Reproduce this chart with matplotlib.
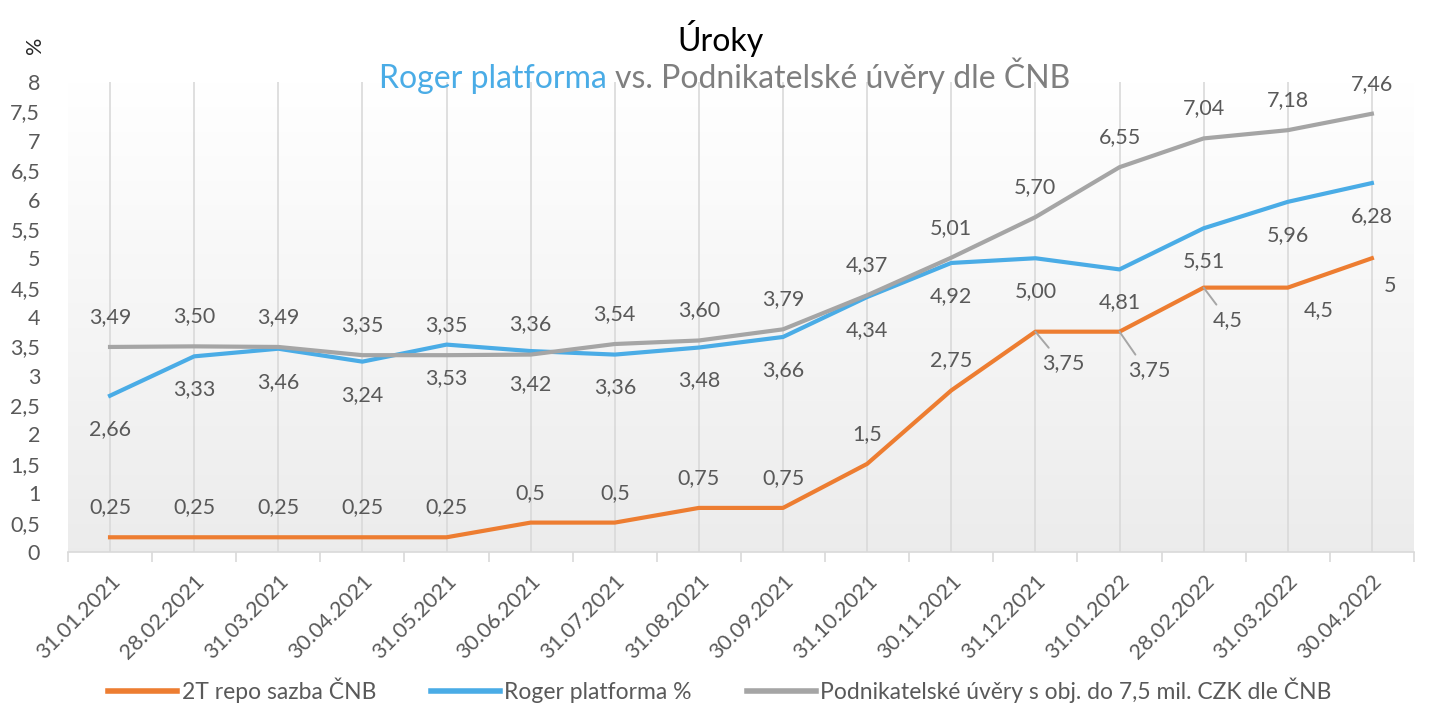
import numpy as np
import matplotlib
matplotlib.use('Agg')
import matplotlib.pyplot as plt
from matplotlib.ticker import FuncFormatter, FixedLocator

plt.rcParams['font.family'] = ['Lato', 'DejaVu Sans']

# --- data ---
dates = ['31.01.2021', '28.02.2021', '31.03.2021', '30.04.2021', '31.05.2021',
         '30.06.2021', '31.07.2021', '31.08.2021', '30.09.2021', '31.10.2021',
         '30.11.2021', '31.12.2021', '31.01.2022', '28.02.2022', '31.03.2022',
         '30.04.2022']
repo = [0.25, 0.25, 0.25, 0.25, 0.25, 0.5, 0.5, 0.75, 0.75, 1.5,
        2.75, 3.75, 3.75, 4.5, 4.5, 5]
roger = [2.66, 3.33, 3.46, 3.24, 3.53, 3.42, 3.36, 3.48, 3.66, 4.34,
         4.92, 5.00, 4.81, 5.51, 5.96, 6.28]
uvery = [3.49, 3.50, 3.49, 3.35, 3.35, 3.36, 3.54, 3.60, 3.79, 4.37,
         5.01, 5.70, 6.55, 7.04, 7.18, 7.46]
repo_labels = ['0,25', '0,25', '0,25', '0,25', '0,25', '0,5', '0,5', '0,75', '0,75', '1,5',
               '2,75', '3,75', '3,75', '4,5', '4,5', '5']

C_ORANGE = '#ED7D31'
C_BLUE = '#4AACE6'
C_GRAY = '#A5A5A5'
C_TEXT = '#595959'
FS = 15.5

# label offsets for the repo series (pixels, right/up); last ones sit below with leaders
repo_off = [(0, 30)] * 11 + [(28, -31), (30, -38), (24, -32), (31, -22), (18, -28)]
repo_leader = [False] * 11 + [True, True, True, False, False]

fig = plt.figure(figsize=(14.4, 7.22), dpi=100)
ax = fig.add_axes([0.0472, 0.2355, 0.9347, 0.6509])
x = np.arange(len(dates))

# soft vertical gradient in plot area
grad = np.linspace(1.0, 0.925, 256)[:, None]
img = np.dstack([grad, grad, grad])
ax.imshow(img, extent=[-0.5, 15.5, 0, 8], aspect='auto', zorder=0, origin='upper')

ax.plot(x, repo, color=C_ORANGE, lw=3, zorder=3, label='2T repo sazba ČNB', solid_joinstyle='round')
ax.plot(x, roger, color=C_BLUE, lw=3, zorder=3, label='Roger platforma %', solid_joinstyle='round')
ax.plot(x, uvery, color=C_GRAY, lw=3, zorder=3,
        label='Podnikatelské úvěry s obj. do 7,5 mil. CZK dle ČNB', solid_joinstyle='round')

for i in x:
    ax.annotate(f'{uvery[i]:.2f}'.replace('.', ','), (i, uvery[i]), xytext=(0, 30),
                textcoords='offset pixels', ha='center', va='center', fontsize=FS, color=C_TEXT)
    ax.annotate(f'{roger[i]:.2f}'.replace('.', ','), (i, roger[i]), xytext=(0, -33),
                textcoords='offset pixels', ha='center', va='center', fontsize=FS, color=C_TEXT)
    dx, dy = repo_off[i]
    props = None
    if repo_leader[i]:
        props = dict(arrowstyle='-', color='#A6A6A6', lw=1.4, shrinkA=2, shrinkB=0,
                     relpos=(0.25, 1.0))
    ax.annotate(repo_labels[i], (i, repo[i]), xytext=(dx, dy), textcoords='offset pixels',
                ha='center', va='center', fontsize=FS, color=C_TEXT, arrowprops=props)

ax.set_xlim(-0.5, 15.5)
ax.set_ylim(0, 8)
ax.set_xticks(x)
ax.set_xticklabels(dates, rotation=45, ha='right', va='top', rotation_mode='anchor',
                   fontsize=FS, color=C_TEXT)
ax.xaxis.set_minor_locator(FixedLocator(np.arange(-0.5, 16, 1)))
ax.tick_params(axis='x', which='major', length=0, pad=14)
ax.tick_params(axis='x', which='minor', length=7, color='#D9D9D9', width=1.2)
ax.grid(axis='x', which='major', color='#D9D9D9', lw=1.2, zorder=1)
ax.set_axisbelow(True)

ax.set_yticks(np.arange(0, 8.01, 0.5))
ax.yaxis.set_major_formatter(FuncFormatter(lambda v, p: f'{v:g}'.replace('.', ',')))
ax.tick_params(axis='y', length=0, pad=20, labelsize=FS, labelcolor=C_TEXT)

for s in ['top', 'right', 'left']:
    ax.spines[s].set_visible(False)
ax.spines['bottom'].set_color('#D9D9D9')
ax.spines['bottom'].set_linewidth(1.2)

fig.text(0.024, 0.937, '%', rotation=90, ha='center', va='center', fontsize=FS, color='#262626')

# titles: two-coloured subtitle, split placed by measuring full vs. tail width
fig.text(0.5, 0.947, 'Úroky', ha='center', va='center', fontsize=23, color='black')
renderer = fig.canvas.get_renderer()
SUB_Y = 0.878
head, tail = 'Roger platforma', 'vs. Podnikatelské úvěry dle ČNB'
probe = fig.text(0, 0, head + ' ' + tail, fontsize=23)
w_full = probe.get_window_extent(renderer).width / fig.bbox.width
probe.remove()
t2 = fig.text(0, SUB_Y, tail, ha='left', va='baseline', fontsize=23, color='#7F7F7F')
w_tail = t2.get_window_extent(renderer).width / fig.bbox.width
start = 0.503 - w_full / 2
fig.text(start, SUB_Y, head, ha='left', va='baseline', fontsize=23, color=C_BLUE)
t2.set_x(start + w_full - w_tail)

leg = fig.legend(loc='center', bbox_to_anchor=(0.5, 0.044), ncol=3, frameon=False,
                 fontsize=16.5, handlelength=3.0, columnspacing=2.4, handletextpad=0.2)
for txt in leg.get_texts():
    txt.set_color(C_TEXT)
for ln in leg.get_lines():
    ln.set_linewidth(4)

fig.savefig('out.png', dpi=100)
